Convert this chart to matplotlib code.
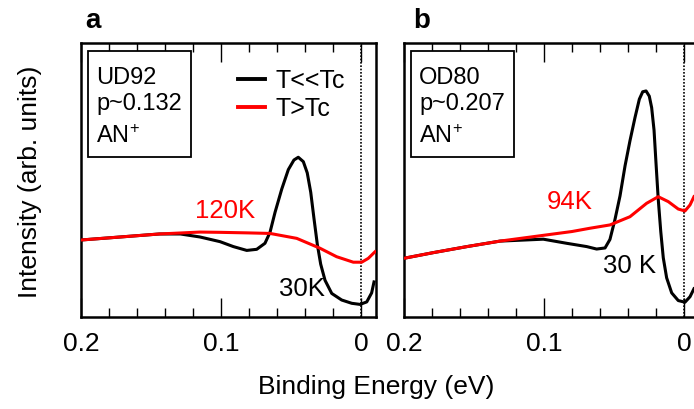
import matplotlib
matplotlib.use("Agg")
import matplotlib.pyplot as plt
from matplotlib.ticker import MultipleLocator, FixedLocator, FuncFormatter
from matplotlib.patches import Rectangle
from matplotlib.lines import Line2D

plt.rcParams['font.family'] = ['Liberation Sans', 'DejaVu Sans']
plt.rcParams['mathtext.fontset'] = 'custom'
plt.rcParams['mathtext.rm'] = 'Liberation Sans'
plt.rcParams['mathtext.default'] = 'regular'

# ---------------- data (binding energy in eV, intensity in arb. units) ----------------
# Panel a: UD92, p~0.132
a_hot_E = [0.200, 0.172, 0.144, 0.115, 0.1007, 0.081, 0.065, 0.0459, 0.0293, 0.0174, 0.0055,
           -0.0005, -0.0052, -0.0100]
a_hot_I = [0.281, 0.292, 0.303, 0.310, 0.309, 0.307, 0.305, 0.287, 0.251, 0.220, 0.200,
           0.200, 0.214, 0.238]

a_cold_E = [0.200, 0.172, 0.144, 0.129, 0.115, 0.1007, 0.0912, 0.0816, 0.0745, 0.0686, 0.0650,
            0.0614, 0.0566, 0.0519, 0.0479, 0.0448, 0.0412, 0.0384, 0.0359, 0.0336, 0.0312,
            0.0288, 0.0257, 0.0209, 0.0138, 0.0066, 0.0007, -0.0041, -0.0076, -0.0093]
a_cold_I = [0.281, 0.292, 0.303, 0.303, 0.292, 0.275, 0.257, 0.243, 0.247, 0.269, 0.309,
            0.382, 0.467, 0.538, 0.573, 0.583, 0.567, 0.526, 0.455, 0.360, 0.265,
            0.193, 0.134, 0.086, 0.062, 0.050, 0.046, 0.055, 0.088, 0.128]

# Panel b: OD80, p~0.207
b_hot_E = [0.1993, 0.179, 0.155, 0.1314, 0.1079, 0.080, 0.0671, 0.0529, 0.0386, 0.0267, 0.0184,
           0.0112, 0.0041, -0.0007, -0.0043, -0.0071]
b_hot_I = [0.215, 0.235, 0.257, 0.277, 0.293, 0.312, 0.324, 0.336, 0.366, 0.415, 0.439,
           0.421, 0.394, 0.387, 0.409, 0.439]

b_cold_E = [0.1993, 0.179, 0.155, 0.1314, 0.1005, 0.0838, 0.0695, 0.0624, 0.0564, 0.0529, 0.0493,
            0.0457, 0.0421, 0.0386, 0.0350, 0.0319, 0.0295, 0.0271, 0.0248, 0.0231, 0.0214,
            0.0200, 0.0184, 0.0166, 0.0148, 0.0124, 0.0088, 0.0041, -0.0007, -0.0043, -0.0071]
b_cold_I = [0.215, 0.235, 0.257, 0.277, 0.284, 0.269, 0.257, 0.248, 0.252, 0.283, 0.356,
            0.442, 0.552, 0.643, 0.728, 0.795, 0.822, 0.825, 0.806, 0.764, 0.682,
            0.562, 0.430, 0.312, 0.216, 0.143, 0.088, 0.060, 0.054, 0.074, 0.103]

panel_letters = ['a', 'b']
sample_names = ['UD92', 'OD80']
dopings = ['p~0.132', 'p~0.207']
hot_labels = ['120K', '94K']
cold_labels = ['30K', '30 K']
legend_labels = ['T<<Tc', 'T>Tc']
tick_vals = [0.2, 0.1, 0.0]

# ---------------- figure ----------------
W, H = 694, 409
fig = plt.figure(figsize=(W / 100, H / 100), dpi=100)

def px_axes(left, top, width, height):
    return fig.add_axes([left / W, 1 - (top + height) / H, width / W, height / H])

axw, axh = 295, 274
ax_a = px_axes(81, 43, axw, axh)
ax_b = px_axes(404, 43, axw, axh)

RED = '#ff0000'

panels = [
    (ax_a, a_cold_E, a_cold_I, a_hot_E, a_hot_I),
    (ax_b, b_cold_E, b_cold_I, b_hot_E, b_hot_I),
]

hot_pos = [(0.488, 0.387), (0.563, 0.420)]
cold_pos = [(0.749, 0.102), (0.763, 0.186)]

for i, (ax, cE, cI, hE, hI) in enumerate(panels):
    ax.plot(cE, cI, color='black', lw=2.2, solid_joinstyle='round', zorder=4)
    ax.plot(hE, hI, color=RED, lw=2.2, solid_joinstyle='round', zorder=5)
    ax.axvline(0.0, color='black', lw=1.2, ls=(0, (1, 1)), zorder=3)
    ax.set_xlim(0.2, 0.2 - axw / 1400)
    ax.set_ylim(0, 1)
    ax.set_yticks([])
    ax.xaxis.set_major_locator(FixedLocator(tick_vals))
    ax.xaxis.set_major_formatter(FuncFormatter(lambda v, p: '0' if abs(v) < 1e-9 else f'{v:.1f}'))
    ax.xaxis.set_minor_locator(MultipleLocator(0.02))
    ax.tick_params(axis='x', which='both', direction='in', top=True, bottom=True,
                   labelsize=19, pad=11, width=1.0, color='black')
    ax.tick_params(axis='x', which='major', length=13.7)
    ax.tick_params(axis='x', which='minor', length=6.5)
    for s in ax.spines.values():
        s.set_linewidth(1.8)

    # inset info box
    ax.add_patch(Rectangle((0.0237, 0.584), 0.349, 0.386, transform=ax.transAxes,
                           facecolor='white', edgecolor='black', lw=1.3, zorder=6))
    ax.text(0.051, 0.850, sample_names[i], transform=ax.transAxes, fontsize=17,
            va='baseline', ha='left', zorder=7)
    ax.text(0.051, 0.755, dopings[i], transform=ax.transAxes, fontsize=17,
            va='baseline', ha='left', zorder=7)
    ax.text(0.051, 0.635, 'AN$^{+}$', transform=ax.transAxes, fontsize=17,
            va='baseline', ha='left', zorder=7)

    ax.text(*hot_pos[i], hot_labels[i], transform=ax.transAxes, fontsize=18.5,
            color=RED, ha='center', va='center')
    ax.text(*cold_pos[i], cold_labels[i], transform=ax.transAxes, fontsize=18.5,
            color='black', ha='center', va='center')

handles = [Line2D([], [], color='black', lw=2.8), Line2D([], [], color=RED, lw=2.8)]
ax_a.legend(handles, legend_labels, loc='upper left', bbox_to_anchor=(0.532, 0.905),
            frameon=False, fontsize=18, handlelength=1.08, handletextpad=0.44,
            labelspacing=0.16, borderpad=0, borderaxespad=0)

fig.text(85 / W, 1 - 28 / H, 'a', fontsize=20, fontweight='bold', va='baseline', ha='left')
fig.text(413 / W, 1 - 28 / H, 'b', fontsize=20, fontweight='bold', va='baseline', ha='left')
fig.text(30 / W, 1 - 182 / H, 'Intensity (arb. units)', fontsize=19, rotation=90,
         ha='center', va='center')
fig.text(376 / W, 1 - 394 / H, 'Binding Energy (eV)', fontsize=19, ha='center', va='baseline')

fig.savefig('out.png', dpi=100, facecolor='white')
